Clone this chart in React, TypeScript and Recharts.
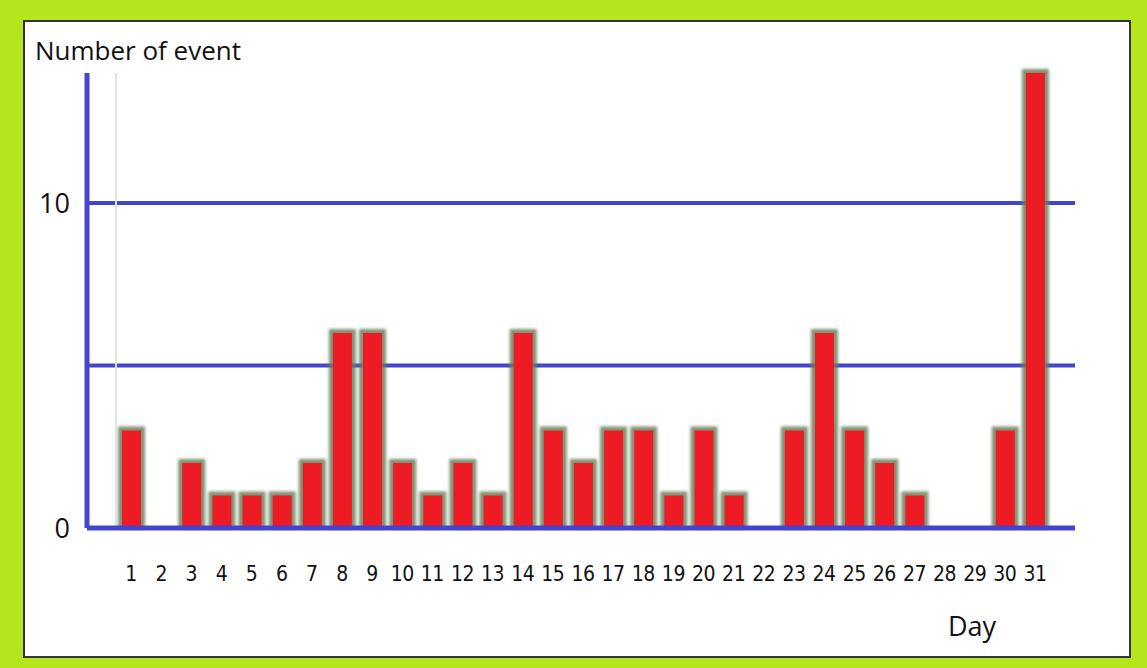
import { BarChart, Bar, XAxis, YAxis, CartesianGrid, ReferenceLine, Label } from 'recharts';

const days = [
    '1', '2', '3', '4', '5', '6', '7', '8', '9', '10', '11', '12', '13', '14', '15', '16',
    '17', '18', '19', '20', '21', '22', '23', '24', '25', '26', '27', '28', '29', '30', '31',
];
const events = [3, 0, 2, 1, 1, 1, 2, 6, 6, 2, 1, 2, 1, 6, 3, 2, 3, 3, 1, 3, 1, 0, 3, 6, 3, 2, 1, 0, 0, 3, 14];
const yTicks = [0, 10];
const gridValues = [5, 10];

const BLUE = '#4444cc';
const RED = '#ed1c24';

const data = days.map((day, i) => ({ day, events: events[i] }));

// red bar with the soft olive halo of the original
const GlowBar = (props: any) => {
    const { x, y, width, height } = props;
    if (!height || height <= 0) return null;
    return (
        <g>
            <rect
                x={x - 4}
                y={y - 4}
                width={width + 8}
                height={height + 4}
                fill='#6d7f5c'
                opacity={0.85}
                filter='url(#barGlow)'
            />
            <rect x={x} y={y} width={width} height={height} fill={RED} />
        </g>
    );
};

const App = () => {
    return (
        <div
            style={{
                position: 'absolute',
                left: 0,
                top: 0,
                width: 1147,
                height: 668,
                background: '#b5e61d',
                fontFamily: '"Open Sans", sans-serif',
            }}
        >
            <div
                style={{
                    position: 'absolute',
                    left: 23,
                    top: 20,
                    width: 1104,
                    height: 634,
                    background: '#fff',
                    border: '2px solid #333',
                }}
            />
            <div style={{ position: 'absolute', left: 0, top: 0 }}>
                <BarChart
                    width={1147}
                    height={668}
                    data={data}
                    margin={{ top: 73, right: 72, left: 27, bottom: 80 }}
                    barSize={19}
                >
                    <defs>
                        <filter id='barGlow' x='-50%' y='-50%' width='200%' height='200%'>
                            <feGaussianBlur stdDeviation='1.6' />
                        </filter>
                    </defs>
                    <CartesianGrid
                        vertical={false}
                        horizontalValues={gridValues}
                        stroke={BLUE}
                        strokeWidth={4}
                    />
                    <ReferenceLine x='1' position='start' stroke='#e2e2e2' strokeWidth={2} />
                    <XAxis
                        dataKey='day'
                        interval={0}
                        padding={{ left: 29, right: 25 }}
                        height={60}
                        axisLine={{ stroke: BLUE, strokeWidth: 5 }}
                        tickLine={false}
                        tickSize={0}
                        tickMargin={38}
                        tick={{
                            fill: '#111',
                            fontSize: 21,
                            letterSpacing: -0.5,
                            fontFamily: '"Liberation Sans Narrow", "DejaVu Sans Condensed", sans-serif',
                        }}
                    >
                        <Label
                            content={() => (
                                <text x={948} y={636} fill='#111' fontSize={27} fontFamily='"Open Sans", sans-serif'>
                                    Day
                                </text>
                            )}
                        />
                    </XAxis>
                    <YAxis
                        domain={[0, 14]}
                        ticks={yTicks}
                        width={60}
                        axisLine={{ stroke: BLUE, strokeWidth: 5 }}
                        tickLine={false}
                        tickMargin={11}
                        tick={{ fill: '#111', fontSize: 27, fontFamily: '"Open Sans", sans-serif' }}
                    >
                        <Label
                            content={() => (
                                <text x={35} y={60} fill='#111' fontSize={26} fontFamily='"Open Sans", sans-serif'>
                                    Number of event
                                </text>
                            )}
                        />
                    </YAxis>
                    <Bar dataKey='events' shape={GlowBar} isAnimationActive={false} />
                </BarChart>
            </div>
        </div>
    );
};

export default App;
